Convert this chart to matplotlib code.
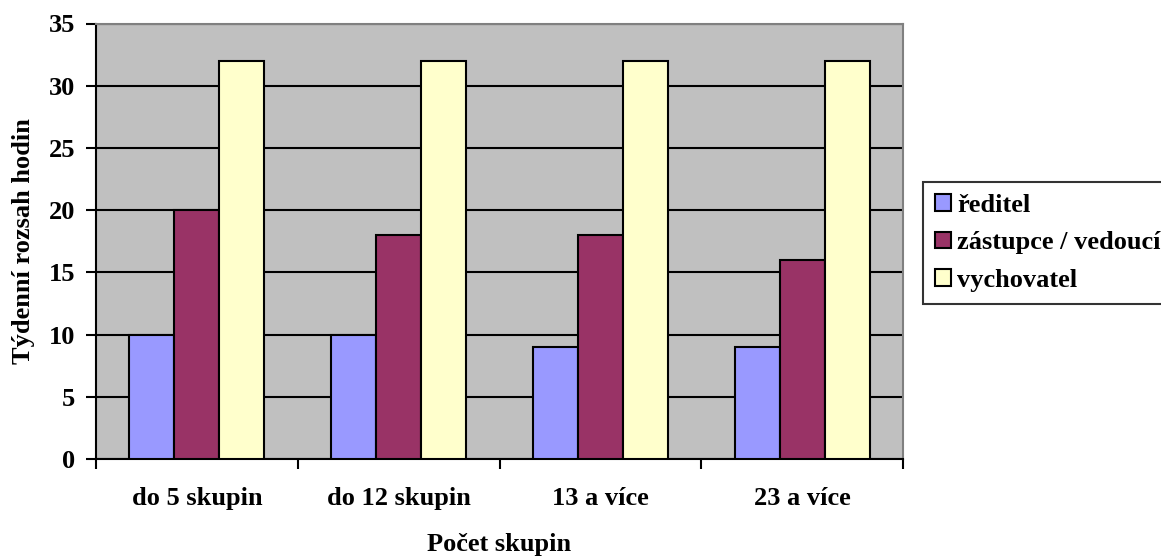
import matplotlib
matplotlib.use("Agg")
import matplotlib.pyplot as plt
import numpy as np

categories = ["do 5 skupin", "do 12 skupin", "13 a více", "23 a více"]
series_names = ["ředitel", "zástupce / vedoucí", "vychovatel"]
reditel = [10, 10, 9, 9]
zastupce = [20, 18, 18, 16]
vychovatel = [32, 32, 32, 32]
colors = ["#9999FF", "#993366", "#FFFFCC"]
yticks = [0, 5, 10, 15, 20, 25, 30, 35]

plt.rcParams['font.family'] = ['Liberation Serif', 'DejaVu Serif']
plt.rcParams['font.weight'] = 'bold'
fs = 19

fig = plt.figure(figsize=(11.61, 5.56), dpi=100)
ax = fig.add_axes([96/1161, 1-459/556, (903-96)/1161, (459-23.5)/556])
ax.set_facecolor("#C0C0C0")

x = np.arange(len(categories))
w = 0.223
for i, (vals, name, c) in enumerate(zip([reditel, zastupce, vychovatel], series_names, colors)):
    ax.bar(x + (i-1)*w, vals, w, color=c, edgecolor="black", linewidth=1.5, label=name, zorder=3)

ax.set_xlim(-0.5, len(categories)-0.5)
ax.set_ylim(0, 35)
ax.set_yticks(yticks)
ax.set_yticklabels([str(t) for t in yticks], fontsize=fs, fontweight='bold')
ax.yaxis.grid(True, color="black", linewidth=1.5, zorder=1)
ax.set_axisbelow(True)

ax.set_xticks(x)
ax.set_xticklabels(categories, fontsize=fs, fontweight='bold')
ax.tick_params(axis='x', length=0, pad=20)
ax.set_xticks(np.arange(len(categories)+1)-0.5, minor=True)
ax.tick_params(axis='x', which='minor', length=7, width=1.5, direction='out')
ax.tick_params(axis='y', length=7, width=1.5, direction='out', pad=8)

for s in ['left', 'bottom']:
    ax.spines[s].set_color('black')
    ax.spines[s].set_linewidth(1.5)
for s in ['top', 'right']:
    ax.spines[s].set_color('#808080')
    ax.spines[s].set_linewidth(1.5)

ax.set_xlabel("Počet skupin", fontsize=fs, fontweight='bold', labelpad=17)
ax.set_ylabel("Týdenní rozsah hodin", fontsize=fs, fontweight='bold', labelpad=10)

leg = fig.legend(loc='upper left', bbox_to_anchor=(923/1161, 1-182/556),
                 prop={'weight': 'bold', 'size': fs}, frameon=True, fancybox=False,
                 edgecolor='black', handlelength=0.6, handleheight=0.6, handletextpad=0.25,
                 borderpad=0.45, labelspacing=0.55, borderaxespad=0)
leg.get_frame().set_linewidth(1.5)

fig.savefig("out.png", dpi=100)
